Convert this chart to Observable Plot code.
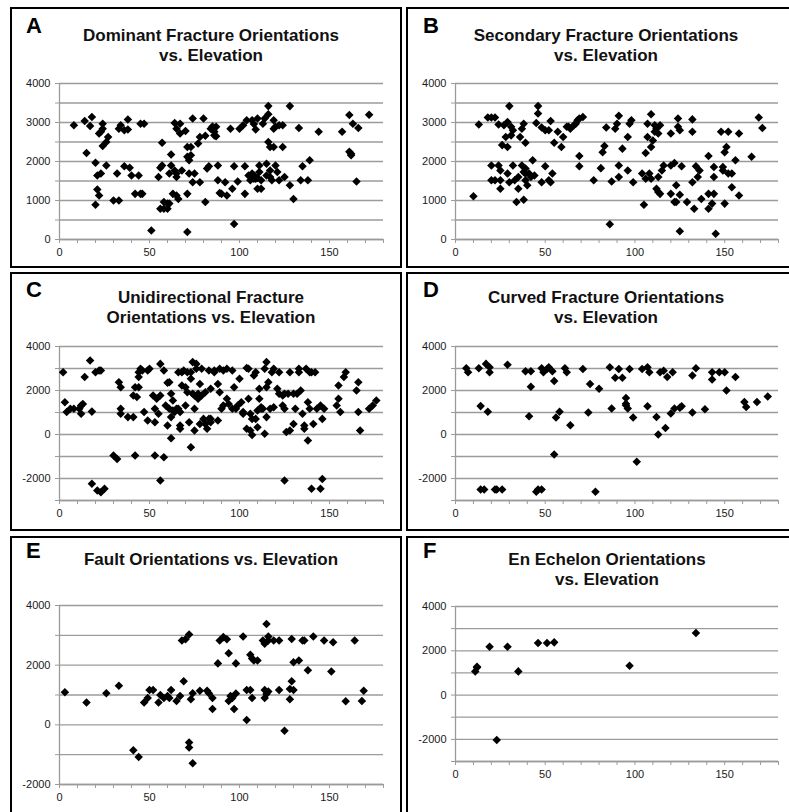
<!DOCTYPE html>
<html>
<head>
<meta charset="utf-8">
<script src="https://cdn.jsdelivr.net/npm/d3@7"></script>
<script src="https://cdn.jsdelivr.net/npm/@observablehq/plot@0.6"></script>
<style>
  html, body { margin: 0; padding: 0; background: #fff; }
  #root { position: relative; width: 789px; height: 812px; overflow: hidden; font-family: "Liberation Sans", Arial, sans-serif; }
  .box { position: absolute; border: 2px solid #000; box-sizing: border-box; }
  .letter { position: absolute; font-weight: bold; font-size: 22px; line-height: 22px; color: #000; }
  .title { position: absolute; font-weight: bold; font-size: 17px; line-height: 20px; text-align: center; color: #111; white-space: nowrap; transform: translateX(-50%); }
  .plot { position: absolute; }
</style>
</head>
<body>
<div id="root"></div>
<script>
// ---- Data: [elevation, orientation] pairs ----
const dominant = [
[8,2930],[14,3040],[15,2220],[18,3140],[17,2910],[20,1970],[20,890],[21,1280],[22,1130],[21,1640],
[23,1690],[22,2720],[23,2760],[24,2970],[24,2840],[24,2400],[26,2500],[27,2630],[26,1900],[30,1000],
[32,1690],[33,1000],[33,2840],[34,2930],[36,2800],[36,1880],[38,3075],[38,2820],[39,1840],[40,1640],
[42,1170],[44,1640],[45,2970],[47,2970],[46,1170],[45,1170],[51,230],[55,1600],[56,1840],[57,2480],
[57,1900],[56,790],[58,960],[58,790],[60,920],[60,790],[61,1690],[61,920],[62,1900],[62,2180],
[63,1170],[64,1770],[65,1690],[65,2840],[64,2990],[65,1130],[66,1040],[65,1600],[67,2970],[67,2720],
[68,1770],[70,2780],[71,2120],[71,2370],[71,1170],[71,190],[72,2030],[72,1690],[73,2160],[73,2370],
[74,1470],[74,3100],[75,1690],[77,2460],[78,2630],[78,1470],[80,3100],[81,2660],[81,960],[82,1820],
[83,1880],[84,2840],[85,2900],[86,2670],[86,2760],[87,2890],[87,2650],[88,1900],[88,1520],[89,1190],
[90,1170],[92,1470],[93,1130],[95,2840],[96,1300],[97,400],[97,1880],[99,1490],[100,2840],[102,2930],
[103,1170],[103,1880],[104,3060],[105,1640],[106,1520],[107,1690],[107,3060],[108,1560],[108,2960],[109,2820],
[109,1560],[110,1300],[110,3100],[111,1730],[111,1900],[112,1520],[112,1300],[113,2970],[114,3100],[115,1640],
[115,1940],[116,3420],[116,3210],[116,2500],[117,2370],[117,1770],[118,1520],[119,2370],[119,3060],[119,2840],
[120,1900],[120,2890],[121,1730],[122,2930],[122,1520],[124,2930],[124,2370],[125,1600],[128,1390],[128,3420],
[130,1040],[133,2860],[134,1520],[135,1880],[138,1520],[139,2030],[144,2760],[157,2760],[161,3190],[161,2250],
[162,2160],[163,2970],[165,1490],[166,2860],[172,3200],[162,2200],[117,1600],[106,1620],[108,1650],[110,1580]
];
const secondary = [
[10,1110],[13,2950],[18,3130],[20,3130],[22,3130],[20,1900],[20,1520],[22,1520],[24,2950],[24,1900],
[25,1770],[25,1520],[25,1300],[26,2420],[27,2930],[28,2630],[29,3010],[29,2370],[29,1690],[30,1470],
[30,3420],[31,2890],[31,2670],[32,2800],[32,1900],[33,1520],[34,960],[35,1300],[35,1600],[36,2630],
[37,2840],[37,1900],[38,1730],[38,2970],[38,1020],[39,1520],[39,1820],[39,1690],[39,2480],[40,1390],
[41,1690],[42,1600],[43,2030],[44,1640],[45,2990],[46,3420],[46,3230],[48,2870],[48,1470],[50,2800],
[50,1880],[52,1520],[52,2800],[53,3040],[53,1470],[54,1690],[55,2480],[57,2760],[59,2370],[60,2630],
[62,2890],[63,2890],[64,2840],[66,2930],[67,2970],[68,3060],[69,3100],[71,3140],[69,2140],[69,1880],
[77,1520],[81,1830],[82,2240],[83,2400],[84,2870],[87,1490],[86,390],[89,2840],[90,2970],[91,3170],
[91,1900],[91,1600],[93,2330],[96,1770],[96,2630],[97,2970],[98,3060],[99,1470],[104,1690],[105,890],
[106,1560],[106,2220],[107,2970],[107,2630],[108,1690],[109,3210],[109,1560],[109,2370],[110,2540],[111,2760],
[111,2930],[112,1300],[112,2840],[113,2720],[113,1220],[113,1600],[114,1170],[114,2930],[115,1770],[116,1900],
[120,2720],[120,1170],[120,1900],[122,1960],[122,960],[123,960],[123,1390],[124,3100],[124,2890],[125,2800],
[125,1150],[125,210],[126,1880],[129,960],[132,3080],[132,2760],[132,1470],[133,790],[134,1880],[135,1600],
[136,1770],[137,1040],[141,2140],[141,1170],[141,790],[143,920],[144,1860],[144,1600],[144,1170],[145,150],
[148,2760],[149,1860],[149,1770],[150,2240],[150,920],[151,2370],[152,2760],[152,1690],[154,1340],[154,1690],
[156,2030],[158,1130],[165,2120],[169,3130],[171,2860],[158,2720]
];
const unidirectional = [
[2,2830],[3,1470],[4,1020],[6,1170],[8,1170],[11,1170],[12,1320],[13,1390],[12,940],[14,2610],
[17,3360],[18,-2240],[18,1040],[20,2830],[21,-2550],[22,2910],[23,-2620],[23,2910],[25,-2470],[30,-950],
[32,-1110],[33,2380],[34,2150],[34,1170],[34,940],[38,790],[41,790],[41,1770],[42,2150],[42,-950],
[43,1700],[44,2150],[44,2610],[44,2830],[45,2990],[46,2910],[47,1020],[49,2910],[49,640],[50,2990],
[52,1770],[53,560],[53,-950],[53,1170],[54,1620],[55,940],[56,1770],[56,3210],[56,-2090],[58,2910],
[58,-1030],[59,1320],[60,2350],[60,410],[61,1170],[61,2380],[62,790],[62,-170],[62,1850],[63,1550],
[63,1090],[64,1020],[65,1170],[66,2830],[67,260],[67,410],[67,1020],[68,2230],[68,2830],[69,2910],
[70,1320],[70,2150],[71,2830],[71,1920],[72,560],[73,-580],[73,2530],[73,2830],[74,3290],[74,1850],
[75,1770],[75,180],[75,1170],[76,2990],[76,3210],[77,1850],[77,1620],[78,2300],[78,480],[79,1770],
[80,710],[81,1920],[81,480],[82,260],[83,2910],[83,710],[84,2080],[84,710],[84,560],[86,2910],
[88,640],[88,2300],[89,1920],[89,2990],[90,1170],[91,2910],[91,1320],[93,2990],[93,1620],[94,1390],
[96,2910],[97,2150],[98,1170],[99,1320],[100,2530],[101,1470],[102,940],[104,3020],[104,260],[105,1620],
[105,2990],[106,940],[106,180],[107,-20],[107,710],[108,2680],[109,2830],[109,710],[110,330],[110,1090],
[111,1620],[111,2080],[112,1170],[112,1240],[113,1170],[114,2990],[114,30],[115,2150],[115,3290],[115,790],
[116,2380],[117,1170],[118,2830],[119,1240],[121,2080],[122,2830],[122,1850],[124,1770],[124,1320],[125,1170],
[125,1850],[125,-2090],[126,110],[127,1850],[128,180],[128,2830],[130,1850],[130,480],[131,1170],[132,1850],
[133,2830],[133,2990],[134,2000],[135,940],[136,260],[136,410],[137,2990],[138,1470],[138,-270],[139,1170],
[139,2830],[140,-2470],[141,480],[142,2830],[143,1170],[145,1320],[145,-2470],[146,-2020],[146,710],[147,1170],
[155,1620],[155,2230],[156,1020],[158,2610],[159,2830],[165,2000],[166,2380],[166,1020],[167,180],[172,1170],
[174,1320],[176,1550],[154,1320],[140,2830],[119,2990],[102,1020],[96,1170],[86,2830],[79,2990],[66,1170]
];
const curved = [
[6,3010],[7,2830],[13,3010],[14,1290],[14,-2500],[16,-2500],[17,3210],[18,1030],[19,3060],[19,2830],
[22,-2500],[23,-2500],[26,-2500],[29,3170],[39,2880],[41,830],[42,2170],[42,2880],[45,-2600],[46,-2500],
[48,-2500],[48,3010],[49,2830],[51,2980],[52,3060],[54,2880],[55,2430],[55,-910],[56,770],[58,1030],
[61,3010],[62,2830],[64,420],[71,2980],[74,1000],[75,2300],[78,-2600],[80,2080],[86,3060],[87,1180],
[89,2580],[91,2980],[93,2580],[95,1660],[95,1330],[96,1180],[97,2980],[99,770],[101,-1240],[104,2980],
[107,3060],[107,1280],[108,2830],[112,800],[113,0],[114,2830],[116,2900],[117,300],[118,2610],[120,950],
[121,2830],[122,1180],[125,1220],[126,1280],[132,2680],[132,1000],[134,3010],[139,1150],[143,2500],[143,2830],
[147,2830],[150,2830],[151,2000],[156,2610],[161,1480],[162,1250],[168,1480],[174,1730],[95,1400]
];
const fault = [
[3,1090],[15,750],[26,1060],[33,1310],[41,-850],[44,-1080],[47,750],[49,900],[50,1170],[52,1170],
[55,750],[56,1000],[58,900],[60,970],[61,900],[62,1170],[65,800],[67,970],[68,2830],[69,1460],
[70,2870],[72,3030],[72,-590],[72,-760],[73,860],[74,1060],[74,-1290],[78,1140],[82,1140],[83,1060],
[85,900],[85,530],[88,2060],[89,2830],[91,2940],[93,2870],[94,800],[94,2400],[95,970],[96,900],
[97,530],[98,2060],[98,1050],[102,2960],[104,160],[104,1170],[106,1170],[106,2350],[107,900],[107,2220],
[108,2160],[110,2160],[113,2830],[114,2720],[114,900],[114,1170],[115,3380],[116,2960],[116,2830],[116,1120],
[119,2830],[122,2830],[122,1170],[125,-200],[128,1200],[128,860],[129,2880],[129,1460],[130,1170],[130,2100],
[133,2160],[135,2830],[136,2830],[138,1830],[141,2960],[147,2830],[151,1790],[152,2770],[159,790],[164,2830],
[168,800],[169,1140],[115,1030]
];
const echelon = [
[11,1070],[12,1250],[12,1280],[19,2180],[23,-2030],[29,2180],[35,1070],[46,2350],[51,2350],[55,2380],
[97,1320],[134,2800]
];

const xTicks = [0,10,20,30,40,50,60,70,80,90,100,110,120,130,140,150,160,170,180];
const xLabels = [0,50,100,150];

// ---- panels ----
const panels = [
  {letter:"A", title:["Dominant Fracture Orientations","vs. Elevation"], data:dominant,
   box:[10,7,392,261], x0:59, x1:383, yTop:83, yBot:239, ymin:0, ymax:4000, grid:500, lab:1000,
   tcx:211, t1:36, lx:26, ly:15},
  {letter:"B", title:["Secondary Fracture Orientations","vs. Elevation"], data:secondary,
   box:[406,7,392,261], x0:455, x1:778, yTop:83, yBot:239, ymin:0, ymax:4000, grid:500, lab:1000,
   tcx:606, t1:36, lx:423, ly:15},
  {letter:"C", title:["Unidirectional Fracture","Orientations vs. Elevation"], data:unidirectional,
   box:[10,272,392,259], x0:59, x1:383, yTop:346, yBot:500, ymin:-3000, ymax:4000, grid:1000, lab:2000,
   tcx:211, t1:298, lx:26, ly:279},
  {letter:"D", title:["Curved Fracture Orientations","vs. Elevation"], data:curved,
   box:[406,272,392,259], x0:455, x1:778, yTop:346, yBot:500, ymin:-3000, ymax:4000, grid:1000, lab:2000,
   tcx:606, t1:298, lx:423, ly:279},
  {letter:"E", title:["Fault Orientations vs. Elevation"], data:fault,
   box:[10,536,392,290], x0:59, x1:383, yTop:605, yBot:784, ymin:-2000, ymax:4000, grid:1000, lab:2000,
   tcx:211, t1:560, lx:26, ly:540},
  {letter:"F", title:["En Echelon Orientations","vs. Elevation"], data:echelon,
   box:[406,536,392,290], x0:455, x1:778, yTop:606, yBot:761, ymin:-3000, ymax:4000, grid:1000, lab:2000,
   tcx:607, t1:560, lx:423, ly:540}
];

const diamond = {
  draw(context, size) {
    const h = Math.sqrt(size / 2);
    context.moveTo(0, -h);
    context.lineTo(h, 0);
    context.lineTo(0, h);
    context.lineTo(-h, 0);
    context.closePath();
  }
};

const root = document.getElementById("root");
const gridColor = "#9b9b9b";
const mL = 60, mR = 15, mT = 10, mB = 30;

for (const p of panels) {
  const box = document.createElement("div");
  box.className = "box";
  Object.assign(box.style, {left: p.box[0] + "px", top: p.box[1] + "px", width: p.box[2] + "px", height: p.box[3] + "px"});
  root.appendChild(box);

  const gridVals = d3.range(p.ymin, p.ymax + 1, p.grid);
  const chart = Plot.plot({
    width: (p.x1 - p.x0) + mL + mR,
    height: (p.yBot - p.yTop) + mT + mB,
    marginLeft: mL, marginRight: mR, marginTop: mT, marginBottom: mB,
    x: {domain: [0, 180]},
    y: {domain: [p.ymin, p.ymax]},
    style: {fontFamily: '"Liberation Sans", Arial, sans-serif', fontSize: "11px", color: "#1a1a1a", background: "transparent", overflow: "visible"},
    marks: [
      Plot.gridY(gridVals, {stroke: gridColor, strokeOpacity: 1, strokeWidth: 1.3}),
      Plot.ruleX([0], {stroke: gridColor, strokeWidth: 1.3}),
      Plot.ruleY([p.ymin], {stroke: gridColor, strokeWidth: 1.3}),
      Plot.axisX({ticks: xTicks, tickFormat: d => xLabels.includes(d) ? String(d) : "", tickSize: 4, tickPadding: 5, stroke: gridColor, label: null}),
      Plot.axisY({ticks: gridVals, tickFormat: d => (d % p.lab === 0) ? String(d) : "", tickSize: 4, tickPadding: 5, stroke: gridColor, label: null}),
      Plot.dot(p.data, {x: d => d[0], y: d => d[1], symbol: diamond, r: 3.4, fill: "#000", stroke: "none"})
    ]
  });
  chart.classList.add("plot");
  chart.style.left = (p.x0 - mL) + "px";
  chart.style.top = (p.yTop - mT) + "px";
  chart.style.position = "absolute";
  root.appendChild(chart);

  const letter = document.createElement("div");
  letter.className = "letter";
  letter.textContent = p.letter;
  Object.assign(letter.style, {left: p.lx + "px", top: p.ly + "px"});
  root.appendChild(letter);

  const title = document.createElement("div");
  title.className = "title";
  title.innerHTML = p.title.join("<br>");
  Object.assign(title.style, {left: p.tcx + "px", top: (p.t1 - 10) + "px"});
  root.appendChild(title);
}
</script>
</body>
</html>
